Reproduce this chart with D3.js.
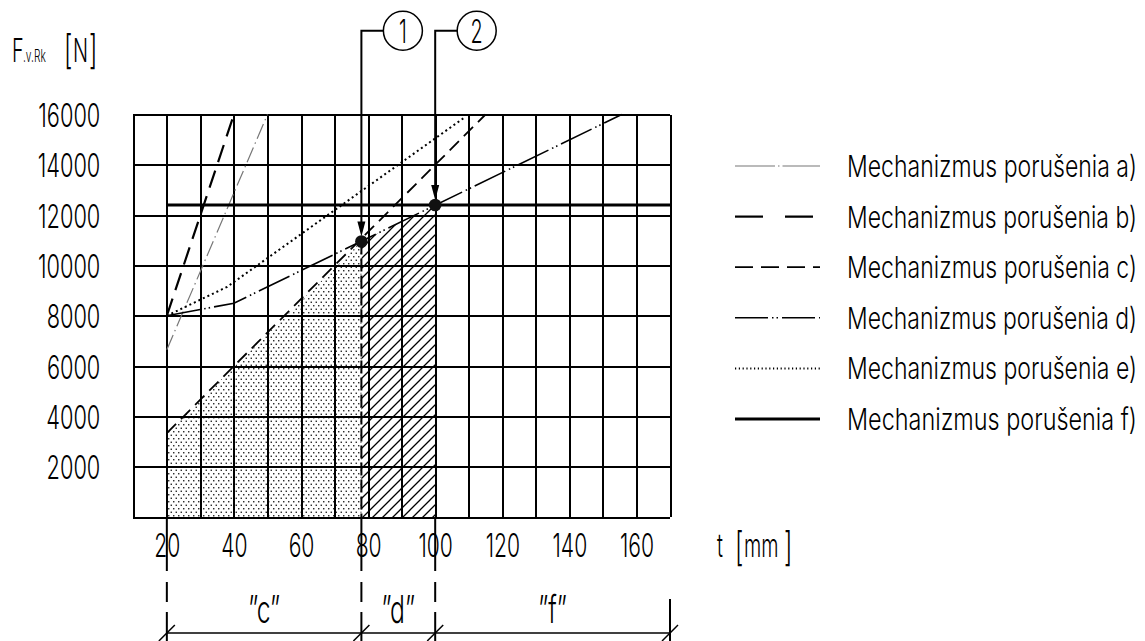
<!DOCTYPE html>
<html>
<head>
<meta charset="utf-8">
<script src="https://cdn.jsdelivr.net/npm/d3@7"></script>
<style>
body { margin: 0; background: #fff; }
text { font-family: Inter, "DejaVu Sans", sans-serif; font-weight: 300; fill: #000; }
</style>
</head>
<body>
<svg width="1145" height="641"></svg>
<script>
// tick labels
const tTicks = [20, 40, 60, 80, 100, 120, 140, 160];
const fTicks = [2000, 4000, 6000, 8000, 10000, 12000, 14000, 16000];

// mechanisms (t in mm, F in N)
const mechA = [{t: 20, f: 6650}, {t: 50, f: 16000}];
const mechB = [{t: 20, f: 8000}, {t: 40, f: 16000}];
const mechC = [{t: 20, f: 3333}, {t: 115, f: 16000}];
const mechD = [{t: 20, f: 8000}, {t: 40, f: 8500}, {t: 155.6, f: 16000}];
const mechE = [{t: 20, f: 8000}, {t: 38, f: 9150}, {t: 108.4, f: 15850}];
const mechF = [{t: 20, f: 12400}, {t: 170, f: 12400}];

// decisive points 1 and 2
const points = [{id: '1', t: 78, f: 10950}, {id: '2', t: 100, f: 12400}];

// filled zones
const dottedTop = [{t: 20, f: 3333}, {t: 78, f: 10950}];
const hatchTop = [{t: 78, f: 10950}, {t: 100, f: 12400}];

// ranges below the axis
const zones = [
    {label: '\u201Dc\u201D', from: 20, to: 78},
    {label: '\u201Dd\u201D', from: 78, to: 100},
    {label: '\u201Df\u201D', from: 100, to: 170}
];

const legendLabels = ['Mechanizmus porušenia a)', 'Mechanizmus porušenia b)', 'Mechanizmus porušenia c)',
    'Mechanizmus porušenia d)', 'Mechanizmus porušenia e)', 'Mechanizmus porušenia f)'];

const svg = d3.select('svg');

// line styles per mechanism
const styles = [
    {data: mechA, stroke: '#777', width: 1.2, dash: '16,4,1.5,4', legDash: '40,3,1.5,3'},
    {data: mechB, stroke: '#000', width: 2.2, dash: '18,9', legDash: '28,22'},
    {data: mechC, stroke: '#000', width: 1.8, dash: '13,7', legDash: '18,8'},
    {data: mechD, stroke: '#000', width: 1.6, dash: '34,4,1.5,3,1.5,4', legDash: '33,4,1.5,3,1.5,4'},
    {data: mechE, stroke: '#000', width: 2, dash: '2,3', legDash: '1.2,2.6'},
    {data: mechF, stroke: '#000', width: 3, dash: null, legDash: null}
];

const x = d3.scaleLinear().domain([10, 170]).range([133.3, 670]);
const y = d3.scaleLinear().domain([0, 16000]).range([517, 114.5]);

// patterns
const defs = svg.append('defs');
const dots = defs.append('pattern').attr('id', 'dots')
    .attr('patternUnits', 'userSpaceOnUse').attr('width', 5).attr('height', 7);
dots.append('rect').attr('x', 0.6).attr('y', 0.6).attr('width', 1.3).attr('height', 1.3).attr('fill', '#000');
dots.append('rect').attr('x', 3.1).attr('y', 4.1).attr('width', 1.3).attr('height', 1.3).attr('fill', '#000');
const hatch = defs.append('pattern').attr('id', 'hatch')
    .attr('patternUnits', 'userSpaceOnUse').attr('width', 10).attr('height', 10);
hatch.append('path').attr('d', 'M-1,11L11,-1M-1,1L1,-1M9,11L11,9')
    .attr('stroke', '#000').attr('stroke-width', 1.3);

// filled zones
const area = d3.area().x(d => x(d.t)).y0(y(0)).y1(d => y(d.f));
svg.append('path').datum(dottedTop).attr('d', area).attr('fill', 'url(#dots)');
svg.append('path').datum(hatchTop).attr('d', area).attr('fill', 'url(#hatch)');

// grid
const gridX = svg.append('g').attr('transform', `translate(0,${y(0)})`)
    .call(d3.axisBottom(x).tickValues(d3.range(10, 171, 10)).tickSize(-(y(0) - y(16000))).tickFormat(''));
const gridY = svg.append('g').attr('transform', `translate(${x(10)},0)`)
    .call(d3.axisLeft(y).tickValues(d3.range(0, 16001, 2000)).tickSize(-(x(170) - x(10))).tickFormat(''));
svg.selectAll('.domain').remove();
svg.selectAll('.tick line').attr('stroke', '#000').attr('stroke-width', 2).attr('shape-rendering', 'crispEdges');

// tick labels
const xLab = svg.append('g').attr('transform', `translate(0,${y(0)})`)
    .call(d3.axisBottom(x).tickValues(tTicks).tickSize(0));
xLab.select('.domain').remove();
xLab.selectAll('text').attr('y', null).attr('dy', null)
    .attr('font-size', 33).attr('font-family', null)
    .attr('transform', 'translate(0,40) scale(0.64,1)');

const yLab = svg.append('g').attr('transform', `translate(${x(10)},0)`)
    .call(d3.axisLeft(y).tickValues(fTicks).tickSize(0).tickFormat(d3.format('d')));
yLab.select('.domain').remove();
yLab.selectAll('text').attr('x', null).attr('dy', null)
    .attr('font-size', 33).attr('font-family', null)
    .attr('transform', 'translate(-33,12) scale(0.66,1)');

// helper for narrow text
const label = (str, px, py, size, anchor, sx) => svg.append('text')
    .attr('transform', `translate(${px},${py}) scale(${sx || 0.6},1)`)
    .attr('font-size', size).attr('text-anchor', anchor || 'start').text(str);

// axis titles
label('F', 12, 62, 33);
label('.v.Rk', 23, 62, 17);
label('[', 64, 64, 40);
label('N', 73, 62, 33);
label(']', 89, 64, 40);
label('t', 717, 557, 33);
label('[', 735, 561, 40);
label('mm', 744, 557, 33);
label(']', 784, 561, 40);

// mechanism lines
const line = d3.line().x(d => x(d.t)).y(d => y(d.f));
svg.selectAll('.mech').data(styles).enter().append('path')
    .attr('class', 'mech')
    .attr('d', d => line(d.data))
    .attr('fill', 'none')
    .attr('stroke', d => d.stroke)
    .attr('stroke-width', d => d.width)
    .attr('stroke-dasharray', d => d.dash);

// divider from point 1 to the axis
svg.append('line')
    .attr('x1', x(points[0].t)).attr('x2', x(points[0].t))
    .attr('y1', y(points[0].f)).attr('y2', y(0))
    .attr('stroke', '#000').attr('stroke-width', 2).attr('stroke-dasharray', '13,4');

// dividers below the chart
const bounds = [20, 78, 100];
svg.selectAll('.div').data(bounds).enter().append('line')
    .attr('x1', d => x(d)).attr('x2', d => x(d))
    .attr('y1', y(0)).attr('y2', 641)
    .attr('stroke', '#000').attr('stroke-width', 2)
    .attr('stroke-dasharray', '54,11,20,10,60');
svg.append('line')
    .attr('x1', x(170)).attr('x2', x(170)).attr('y1', 599).attr('y2', 641)
    .attr('stroke', '#000').attr('stroke-width', 2);

// dimension line
const dimY = 633;
svg.append('line').attr('x1', x(20)).attr('x2', x(170)).attr('y1', dimY).attr('y2', dimY)
    .attr('stroke', '#000').attr('stroke-width', 1.5);
svg.selectAll('.tick-slash').data([20, 78, 100, 170]).enter().append('line')
    .attr('x1', d => x(d) - 8).attr('x2', d => x(d) + 8)
    .attr('y1', dimY + 8).attr('y2', dimY - 8)
    .attr('stroke', '#000').attr('stroke-width', 1.5);
zones.forEach(z => label(z.label, (x(z.from) + x(z.to)) / 2, 623, 38, 'middle', 0.65));

// call-outs
const calloutY = 30.7;
points.forEach(p => {
    const px = x(p.t), py = y(p.f);
    svg.append('path')
        .attr('d', `M${px + 22},${calloutY}H${px}V${py - 18}`)
        .attr('fill', 'none').attr('stroke', '#000').attr('stroke-width', 2);
    svg.append('path')
        .attr('d', `M${px - 4},${py - 20}L${px + 4},${py - 20}L${px},${py - 5}Z`)
        .attr('fill', '#000');
    svg.append('circle').attr('cx', px).attr('cy', py).attr('r', 6.3).attr('fill', '#111');
    svg.append('circle').attr('cx', px + 41.5).attr('cy', calloutY).attr('r', 19.5)
        .attr('fill', 'none').attr('stroke', '#000').attr('stroke-width', 1.5);
    label(p.id, px + 41.5, calloutY + 12, 33, 'middle');
});

// legend
const legend = svg.append('g');
const rows = legend.selectAll('g').data(styles).enter().append('g')
    .attr('transform', (d, i) => `translate(735,${166 + i * 50.6})`);
rows.append('line').attr('x1', 0).attr('x2', 85)
    .attr('stroke', d => d.stroke)
    .attr('stroke-width', d => d.width)
    .attr('stroke-dasharray', d => d.legDash);
rows.append('text')
    .attr('transform', 'translate(112,11) scale(0.72,1)')
    .attr('font-size', 30)
    .attr('textLength', 290 / 0.72).attr('lengthAdjust', 'spacingAndGlyphs')
    .text((d, i) => legendLabels[i]);
</script>
</body>
</html>
